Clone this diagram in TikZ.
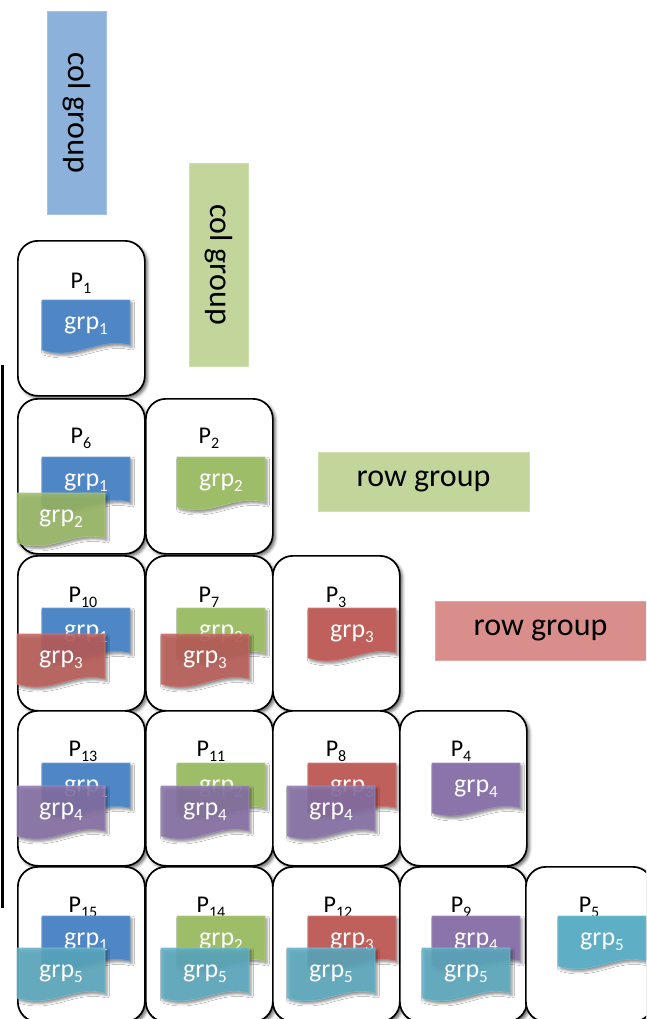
\documentclass[tikz,border=0pt]{standalone}
\usepackage{fontspec}
\setmainfont{Carlito}
\usetikzlibrary{shadows,shadows.blur}
\definecolor{cblue}{HTML}{4F86C6}
\definecolor{cgreen}{HTML}{9EBD68}
\definecolor{cred}{HTML}{C0605C}
\definecolor{cpurple}{HTML}{8A74AA}
\definecolor{ccyan}{HTML}{5EAEC5}
\definecolor{gblue}{HTML}{8CB1DA}
\definecolor{ggreen}{HTML}{C2D69B}
\definecolor{gred}{HTML}{D98E8B}
\newcommand{\psub}[1]{\raisebox{-5pt}{\fontsize{16}{16}\selectfont #1}}
\newcommand{\gsub}[1]{\raisebox{-5pt}{\fontsize{17}{17}\selectfont #1}}
\tikzset{
  pbox/.style={draw=black, line width=1.7pt, rounded corners=20pt, fill=white,
    minimum width=127pt, minimum height=155pt, anchor=north west, inner sep=0pt,
    blur shadow={shadow xshift=2.5pt, shadow yshift=-2.5pt, shadow blur radius=3pt, shadow opacity=60}},
  plabel/.style={font=\fontsize{24}{24}\selectfont, inner sep=0pt},
  flagshape/.style={draw=#1!80!white, line width=0.6pt, fill=#1,
    blur shadow={shadow xshift=2pt, shadow yshift=-2.5pt, shadow blur radius=2.5pt, shadow opacity=45}},
  flagfront/.style={fill opacity=0.86},
  flagback/.style={},
  flagtext/.style={text=white, font=\fontsize{26}{26}\selectfont, inner sep=0pt},
  grpbox/.style={fill=#1, draw=#1!80!white, line width=0.6pt,
    font=\fontsize{32}{32}\selectfont, inner sep=0pt},
}
\newcommand{\procbox}[3]{% name, x, y
  \node[pbox] (b#1) at (#2,#3) {};}
\newcommand{\grpflag}[6]{% name, x, y, color, n, style
  \begin{scope}[shift={(#2,#3)}]
    \path[flagshape=#4, #6] (0,0) -- (88,0) -- (88,45) .. controls (55,37) and (35,61) .. (0,50) -- cycle;
    \node[flagtext] (#1) at (44,26) {grp\gsub{#5}};
  \end{scope}}
\begin{document}
\begin{tikzpicture}[x=1pt,y=-1pt]
\useasboundingbox (0,0) rectangle (646,1019);
\clip (0,0) rectangle (646,1019);

% group boxes
\node[grpbox=gblue, minimum width=203pt, minimum height=59pt, rotate=-90] (cgA) at (76.5,112.5) {col group};
\node[grpbox=ggreen, minimum width=203pt, minimum height=59pt, rotate=-90] (cgB) at (218.5,264.5) {col group};
\node[grpbox=ggreen, minimum width=211pt, minimum height=59pt] (rgA) at (423.5,481.5) {row group};
\node[grpbox=gred, minimum width=211pt, minimum height=59pt] (rgB) at (540.5,630.5) {row group};

% left line
\coordinate (lt) at (2.5,365);
\coordinate (lb) at (2.5,908);
\draw[line width=2.5pt] (lt) -- (lb);

% processor boxes
\procbox{1}{17}{240}
\procbox{6}{17}{398}
\procbox{2}{145}{398}
\procbox{10}{17}{555}
\procbox{7}{145}{555}
\procbox{3}{272}{555}
\procbox{13}{17}{710}
\procbox{11}{145}{710}
\procbox{8}{272}{710}
\procbox{4}{399}{710}
\procbox{15}{17}{866}
\procbox{14}{145}{866}
\procbox{12}{272}{866}
\procbox{9}{399}{866}
\procbox{5}{525}{866}

% labels
\node[plabel] (l1) at (81,283) {P\psub{1}};
\node[plabel] (l6) at (81,438) {P\psub{6}};
\node[plabel] (l2) at (209,438) {P\psub{2}};
\node[plabel] (l10) at (83,597) {P\psub{10}};
\node[plabel] (l7) at (209,597) {P\psub{7}};
\node[plabel] (l3) at (336,597) {P\psub{3}};
\node[plabel] (l13) at (83,751) {P\psub{13}};
\node[plabel] (l11) at (211,751) {P\psub{11}};
\node[plabel] (l8) at (336,751) {P\psub{8}};
\node[plabel] (l4) at (461,751) {P\psub{4}};
\node[plabel] (l15) at (83,907) {P\psub{15}};
\node[plabel] (l14) at (211,907) {P\psub{14}};
\node[plabel] (l12) at (338,907) {P\psub{12}};
\node[plabel] (l9) at (461,907) {P\psub{9}};
\node[plabel] (l5) at (589,907) {P\psub{5}};

% row 1
\grpflag{f1a}{42}{300}{cblue}{1}{flagback}
% row 2
\grpflag{f6a}{42}{457}{cblue}{1}{flagback}
\grpflag{f6b}{17}{493}{cgreen}{2}{flagfront}
\grpflag{f2a}{177}{457}{cgreen}{2}{flagback}
% row 3
\grpflag{f10a}{42}{608}{cblue}{1}{flagback}
\grpflag{f10b}{17}{634}{cred}{3}{flagfront}
\grpflag{f7a}{177}{608}{cgreen}{2}{flagback}
\grpflag{f7b}{161}{634}{cred}{3}{flagfront}
\grpflag{f3a}{308}{608}{cred}{3}{flagback}
% row 4
\grpflag{f13a}{42}{763}{cblue}{1}{flagback}
\grpflag{f13b}{17}{786}{cpurple}{4}{flagfront}
\grpflag{f11a}{177}{763}{cgreen}{2}{flagback}
\grpflag{f11b}{161}{786}{cpurple}{4}{flagfront}
\grpflag{f8a}{308}{763}{cred}{3}{flagback}
\grpflag{f8b}{287}{786}{cpurple}{4}{flagfront}
\grpflag{f4a}{432}{763}{cpurple}{4}{flagback}
% row 5
\grpflag{f15a}{42}{916}{cblue}{1}{flagback}
\grpflag{f15b}{17}{948}{ccyan}{5}{flagfront}
\grpflag{f14a}{177}{916}{cgreen}{2}{flagback}
\grpflag{f14b}{161}{948}{ccyan}{5}{flagfront}
\grpflag{f12a}{308}{916}{cred}{3}{flagback}
\grpflag{f12b}{287}{948}{ccyan}{5}{flagfront}
\grpflag{f9a}{432}{916}{cpurple}{4}{flagback}
\grpflag{f9b}{422}{948}{ccyan}{5}{flagfront}
\grpflag{f5a}{558}{916}{ccyan}{5}{flagback}
\end{tikzpicture}
\end{document}
